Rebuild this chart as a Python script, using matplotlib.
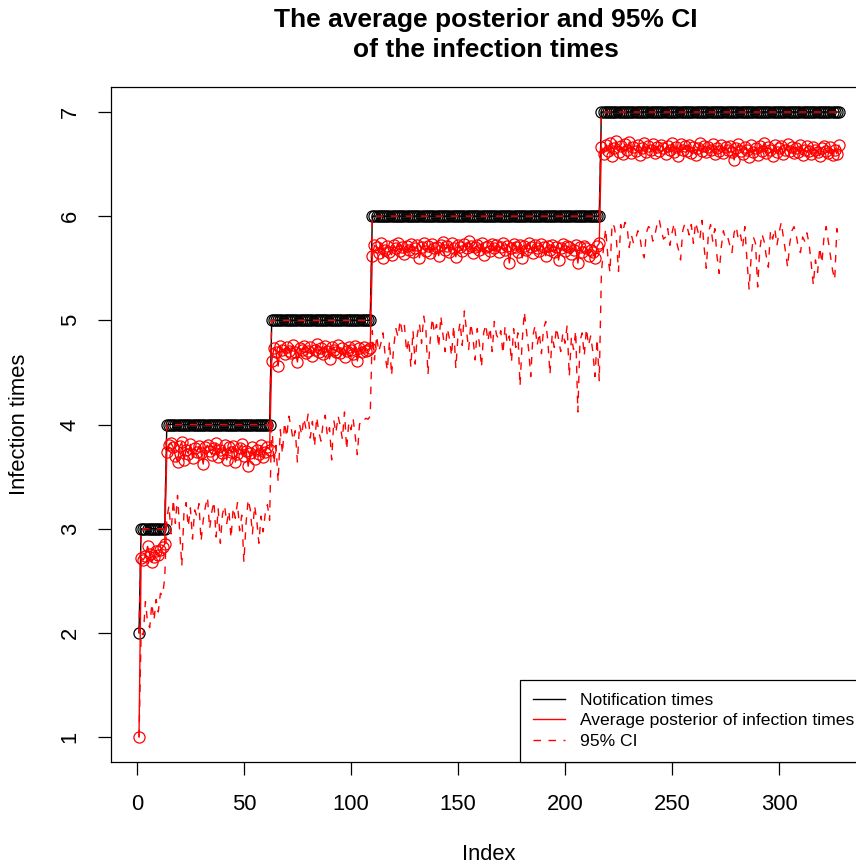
import numpy as np
import matplotlib
matplotlib.use("Agg")
import matplotlib.pyplot as plt
from matplotlib.lines import Line2D

plt.rcParams['font.family'] = ['Liberation Sans', 'DejaVu Sans']

# notification times: step levels and how many points sit on each step
notif_levels = [2, 3, 4, 5, 6, 7]
notif_counts = [1, 12, 49, 47, 107, 112]

# average posterior of the infection times
mean_post = [
    1.00,
    # notification 3
    2.72, 2.70, 2.74, 2.83, 2.76, 2.68, 2.73, 2.79, 2.75, 2.80, 2.82, 2.85,
    # notification 4
    3.74, 3.80, 3.82, 3.78, 3.70, 3.64, 3.79, 3.83, 3.66, 3.76,
    3.72, 3.81, 3.68, 3.77, 3.74, 3.79, 3.73, 3.62, 3.78, 3.80,
    3.75, 3.71, 3.77, 3.82, 3.69, 3.76, 3.73, 3.80, 3.66, 3.78,
    3.74, 3.79, 3.64, 3.72, 3.77, 3.81, 3.70, 3.75, 3.60, 3.73,
    3.78, 3.67, 3.76, 3.72, 3.80, 3.69, 3.74, 3.78, 3.76,
    # notification 5
    4.61, 4.73, 4.70, 4.56, 4.75, 4.72, 4.68, 4.74, 4.71, 4.69,
    4.76, 4.70, 4.60, 4.73, 4.72, 4.75, 4.69, 4.71, 4.74, 4.66,
    4.72, 4.77, 4.70, 4.73, 4.68, 4.75, 4.71, 4.63, 4.74, 4.72,
    4.70, 4.76, 4.69, 4.73, 4.65, 4.71, 4.74, 4.72, 4.68, 4.75,
    4.61, 4.73, 4.70, 4.74, 4.71, 4.72, 4.73,
    # notification 6
    5.62, 5.72, 5.70, 5.65, 5.74, 5.60, 5.68, 5.71, 5.66, 5.63,
    5.72, 5.69, 5.74, 5.67, 5.70, 5.64, 5.71, 5.68, 5.73, 5.66,
    5.69, 5.72, 5.60, 5.70, 5.74, 5.67, 5.71, 5.65, 5.73, 5.69,
    5.70, 5.62, 5.72, 5.75, 5.68, 5.71, 5.66, 5.74, 5.69, 5.61,
    5.72, 5.70, 5.67, 5.73, 5.69, 5.76, 5.71, 5.65, 5.70, 5.72,
    5.68, 5.74, 5.63, 5.70, 5.71, 5.67, 5.73, 5.69, 5.72, 5.66,
    5.70, 5.74, 5.68, 5.71, 5.55, 5.69, 5.73, 5.70, 5.66, 5.72,
    5.60, 5.71, 5.68, 5.74, 5.70, 5.65, 5.72, 5.69, 5.67, 5.73,
    5.70, 5.62, 5.71, 5.68, 5.72, 5.66, 5.70, 5.58, 5.69, 5.73,
    5.67, 5.71, 5.70, 5.64, 5.68, 5.72, 5.55, 5.70, 5.66, 5.71,
    5.69, 5.62, 5.68, 5.66, 5.60, 5.71, 5.74,
    # notification 7
    6.66, 6.60, 6.68, 6.63, 6.70, 6.58, 6.65, 6.72, 6.62, 6.67,
    6.60, 6.69, 6.64, 6.71, 6.61, 6.66, 6.63, 6.68, 6.59, 6.65,
    6.70, 6.62, 6.67, 6.64, 6.69, 6.61, 6.66, 6.63, 6.68, 6.65,
    6.60, 6.67, 6.64, 6.70, 6.62, 6.66, 6.58, 6.69, 6.64, 6.67,
    6.63, 6.68, 6.61, 6.66, 6.59, 6.65, 6.70, 6.63, 6.67, 6.62,
    6.66, 6.64, 6.69, 6.60, 6.65, 6.63, 6.68, 6.61, 6.66, 6.64,
    6.67, 6.62, 6.54, 6.65, 6.69, 6.63, 6.60, 6.66, 6.64, 6.57,
    6.68, 6.62, 6.65, 6.59, 6.67, 6.63, 6.70, 6.61, 6.66, 6.64,
    6.58, 6.68, 6.62, 6.65, 6.67, 6.60, 6.64, 6.69, 6.63, 6.66,
    6.61, 6.65, 6.62, 6.68, 6.59, 6.64, 6.67, 6.63, 6.60, 6.66,
    6.64, 6.62, 6.58, 6.65, 6.67, 6.63, 6.61, 6.66, 6.59, 6.64,
    6.60, 6.68,
]

# lower bound of the 95% CI
ci_lower = [
    1.00,
    # notification 3
    2.00, 1.98, 2.30, 2.10, 2.05, 2.28, 2.12, 2.32, 2.20, 2.38, 2.36, 2.52,
    # notification 4
    3.10, 3.22, 2.95, 3.28, 3.05, 3.32, 2.98, 2.64, 3.15, 3.25,
    3.02, 3.20, 2.90, 3.18, 3.12, 3.24, 2.88, 3.08, 3.21, 3.30,
    3.00, 3.16, 3.26, 2.92, 3.19, 2.86, 3.14, 3.22, 3.05, 3.17,
    2.91, 3.20, 3.10, 3.25, 2.98, 3.13, 2.68, 3.05, 3.28, 3.18,
    2.95, 3.22, 3.08, 2.86, 3.12, 2.97, 3.15, 3.23, 3.08,
    # notification 5
    4.05, 3.62, 3.80, 3.45, 3.95, 3.72, 4.02, 3.88, 4.08, 3.98,
    3.85, 3.94, 3.64, 4.00, 3.90, 4.06, 3.96, 4.10, 3.87, 4.03,
    3.79, 4.07, 3.93, 3.84, 4.01, 4.09, 3.89, 3.97, 3.66, 4.04,
    3.92, 4.08, 3.99, 3.86, 4.12, 3.76, 4.02, 3.95, 4.06, 3.89,
    3.71, 4.00, 4.05, 4.04, 4.06, 4.05, 4.08,
    # notification 6
    4.90, 4.62, 4.85, 4.70, 4.78, 4.88, 4.66, 4.52, 4.80, 4.47,
    4.75, 4.92, 4.84, 5.00, 4.88, 4.95, 4.70, 4.82, 4.55, 4.90,
    4.58, 4.86, 4.97, 4.78, 5.04, 4.92, 4.48, 4.80, 5.02, 4.88,
    4.96, 4.74, 5.04, 4.86, 4.70, 4.92, 4.83, 4.66, 4.95, 4.54,
    4.85, 4.98, 4.76, 5.09, 4.90, 4.72, 4.97, 4.84, 4.62, 4.92,
    4.78, 4.55, 4.88, 4.96, 4.80, 4.93, 4.70, 4.99, 4.86, 4.82,
    4.90, 4.68, 4.94, 4.78, 4.85, 4.60, 4.92, 4.74, 4.88, 4.37,
    4.80, 5.08, 4.90, 4.72, 4.46, 4.85, 4.95, 4.76, 4.88, 4.68,
    4.92, 4.99, 4.80, 4.48, 4.86, 4.74, 4.93, 4.82, 4.70, 4.88,
    4.78, 4.95, 4.46, 4.84, 4.72, 4.90, 4.12, 4.80, 4.88, 4.66,
    4.92, 4.76, 4.85, 4.70, 4.46, 4.82, 4.42,
    # notification 7
    5.45, 5.70, 5.88, 5.62, 5.46, 5.93, 5.90, 5.78, 5.47, 5.92,
    5.85, 5.94, 5.90, 5.70, 5.82, 5.74, 5.78, 5.86, 5.80, 5.66,
    5.60, 5.84, 5.90, 5.88, 5.76, 5.82, 5.92, 5.97, 5.86, 5.78,
    5.80, 5.88, 5.72, 5.84, 5.93, 5.76, 5.68, 5.58, 5.86, 5.93,
    5.90, 5.82, 5.92, 5.74, 5.94, 5.86, 5.78, 5.96, 5.70, 5.50,
    5.84, 5.92, 5.76, 5.88, 5.62, 5.45, 5.70, 5.86, 5.78, 5.80,
    5.72, 5.65, 5.84, 5.90, 5.77, 5.82, 5.70, 5.90, 5.58, 5.30,
    5.62, 5.80, 5.74, 5.32, 5.68, 5.83, 5.76, 5.62, 5.51, 5.86,
    5.78, 5.88, 5.72, 5.84, 5.94, 5.80, 5.66, 5.51, 5.74, 5.86,
    5.90, 5.82, 5.70, 5.65, 5.80, 5.76, 5.84, 5.74, 5.55, 5.34,
    5.58, 5.46, 5.70, 5.55, 5.80, 5.90, 5.76, 5.62, 5.48, 5.39,
    5.88, 5.77,
]

notif = np.repeat(notif_levels, notif_counts)
ci_upper = notif  # upper bound lies on the notification times
idx = np.arange(1, len(notif) + 1)

fig = plt.figure(figsize=(8.56, 8.67), dpi=100)
# plot box runs past the right edge of the picture, as in the original
ax = fig.add_axes([111 / 856, 105 / 867, 756 / 856, 675 / 867])

ax.plot(idx, notif, color='black', lw=1.0, marker='o', ms=8.0,
        mfc='none', mec='black', mew=0.9)
ax.plot(idx, mean_post, color='red', lw=1.0, marker='o', ms=8.0,
        mfc='none', mec='red', mew=0.9)
ax.plot(idx, ci_lower, color='red', lw=1.0, ls=(0, (5.4, 5.4)))
ax.plot(idx, ci_upper, color='red', lw=1.0, ls=(0, (5.4, 5.4)))

ax.set_xlim(-12.08, 341.08)
ax.set_ylim(0.76, 7.24)
ax.set_xticks([0, 50, 100, 150, 200, 250, 300])
ax.set_yticks([1, 2, 3, 4, 5, 6, 7])
ax.tick_params(axis='both', direction='out', length=9.3, width=0.9,
               labelsize=15.8)
ax.tick_params(axis='x', pad=14)
ax.tick_params(axis='y', pad=12.5, labelrotation=90)
for lab in ax.get_yticklabels():
    lab.set_va('center')
for sp in ax.spines.values():
    sp.set_linewidth(0.9)

fig.text(489 / 856, 1 - 854 / 867, 'Index', ha='center', va='center',
         fontsize=15.8)
fig.text(20 / 856, 1 - 424 / 867, 'Infection times', ha='center',
         va='center', rotation=90, fontsize=15.8)
fig.text(486 / 856, 1 - 35 / 867,
         'The average posterior and 95% CI\nof the infection times',
         ha='center', va='center', fontsize=19, fontweight='bold',
         linespacing=1.35)

handles = [
    Line2D([], [], color='black', lw=1.0),
    Line2D([], [], color='red', lw=1.0),
    Line2D([], [], color='red', lw=1.0, ls=(0, (5.4, 5.4))),
]
labels = ['Notification times', 'Average posterior of infection times',
          '95% CI']
leg = ax.legend(handles, labels, loc='lower right', bbox_to_anchor=(1, 0),
                borderaxespad=0, fontsize=12.6, handlelength=1.8,
                handletextpad=0.85, borderpad=0.75, labelspacing=0.3,
                fancybox=False, framealpha=1, edgecolor='black')
leg.get_frame().set_linewidth(0.9)

fig.savefig('out.png', dpi=100)
